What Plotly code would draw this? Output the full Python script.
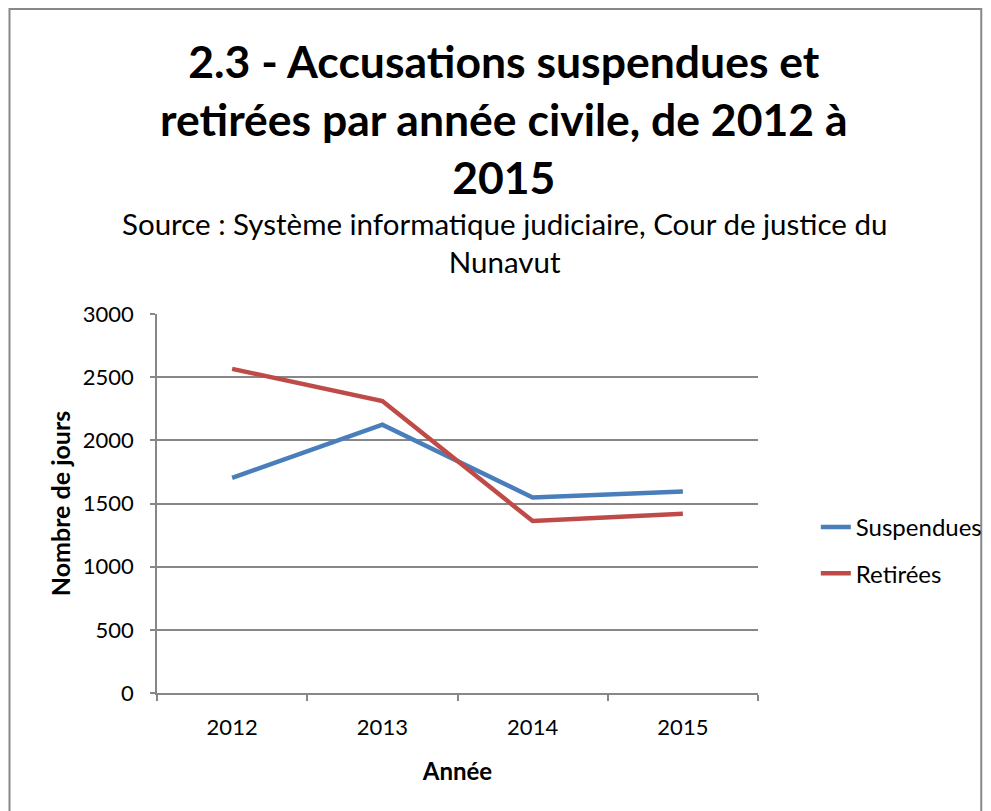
import plotly.graph_objects as go

years = ["2012", "2013", "2014", "2015"]
suspendues = [1703, 2124, 1547, 1595]
retirees = [2566, 2311, 1361, 1418]
y_ticks = [0, 500, 1000, 1500, 2000, 2500, 3000]

OFF = 8  # page body margin
W, H = 991, 811
L, R, T, B = 157 - OFF, 760 - OFF, 314 - OFF, 693 - OFF
FONT = "Lato"
GRID = "#878787"

fig = go.Figure()
fig.add_trace(go.Scatter(x=years, y=suspendues, mode="lines", name="Suspendues",
                         legendgroup="a",
                         line=dict(color="#4A7EBB", width=4.5)))
fig.add_trace(go.Scatter(x=years, y=retirees, mode="lines", name="Retirées",
                         legendgroup="b",
                         line=dict(color="#BE4B48", width=4.5)))

pw, ph = R - L, B - T
def px(x): return (x - OFF - L) / pw
def py(y): return (B - (y - OFF)) / ph

fig.update_layout(
    width=W, height=H,
    margin=dict(l=L, r=W - R, t=T, b=H - B, pad=0),
    paper_bgcolor="white", plot_bgcolor="white",
    font=dict(family=FONT, size=22, color="black"),
    showlegend=True,
    legend=dict(x=px(818), y=py(505), xanchor="left", yanchor="top",
                font=dict(size=24), traceorder="grouped", tracegroupgap=12,
                bgcolor="rgba(0,0,0,0)"),
    xaxis=dict(type="category", range=[-0.5, 3.5], tickson="boundaries",
               ticks="outside", ticklen=6, tickwidth=1.5,
               tickcolor=GRID, showline=True, linecolor=GRID, linewidth=1.5,
               showgrid=False, tickfont=dict(size=22), ticklabelstandoff=14,
               title=dict(text="<b>Année</b>", font=dict(size=24), standoff=24)),
    yaxis=dict(range=[0, 3000], tickvals=y_ticks, ticks="outside", ticklen=5, tickwidth=1.5,
               tickcolor=GRID, showline=True, linecolor=GRID, linewidth=1.5,
               showgrid=True, gridcolor=GRID, gridwidth=1.5, zeroline=False,
               tickfont=dict(size=22), ticklabelstandoff=12,
               title=dict(text="<b>Nombre de jours</b>", font=dict(size=25), standoff=5)),
)

fig.add_annotation(x=px(505), y=py(118), xref="paper", yref="paper",
                   text="<b>2.3 - Accusations suspendues et<br>retirées par année civile, de 2012 à<br>2015</b>",
                   showarrow=False, xanchor="center", yanchor="middle",
                   font=dict(family=FONT, size=44.5, color="black"))
fig.add_annotation(x=px(506), y=py(243), xref="paper", yref="paper",
                   text="Source : Système informatique judiciaire, Cour de justice du<br>Nunavut",
                   showarrow=False, xanchor="center", yanchor="middle",
                   font=dict(family=FONT, size=29.5, color="black"))

fig.add_shape(type="rect", xref="paper", yref="paper",
              x0=px(OFF + 1), x1=px(984), y0=py(OFF + 1), y1=py(840),
              line=dict(color="#888888", width=2), fillcolor="rgba(0,0,0,0)", layer="below")

fig.write_html("out.html")
